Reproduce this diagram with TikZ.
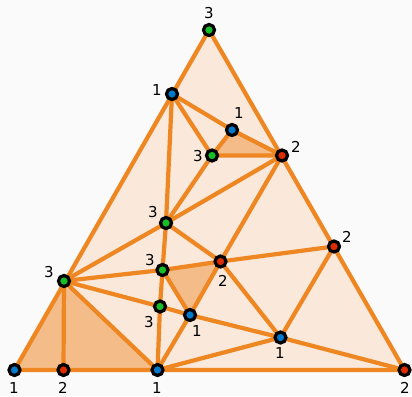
\documentclass[tikz,border=0pt]{standalone}
\usepackage{fontspec}
\setmainfont{DejaVu Sans}
\definecolor{myorange}{RGB}{238,134,34}
\definecolor{mypeach}{RGB}{250,232,218}
\definecolor{myshade}{RGB}{244,188,136}
\definecolor{myblue}{RGB}{0,122,204}
\definecolor{mygreen}{RGB}{22,190,40}
\definecolor{myred}{RGB}{222,44,0}
\definecolor{mybg}{RGB}{250,250,250}
\tikzset{
  edge/.style={myorange, line width=4.2pt, line cap=round, line join=round},
  dot/.style={circle, draw=black, line width=3.2pt, minimum size=11pt, inner sep=0pt},
  vblue/.style={dot, fill=myblue},
  vgreen/.style={dot, fill=mygreen},
  vred/.style={dot, fill=myred},
  lbl/.style={font=\fontsize{15}{15}\selectfont, inner sep=0pt},
}
\begin{document}
\begin{tikzpicture}[x=1pt,y=-1pt]
\fill[mybg] (0,0) rectangle (412,396);
\useasboundingbox (0,0) rectangle (412,396);

% vertices
\coordinate (A) at (209,30);
\coordinate (B) at (172,94);
\coordinate (C) at (232,130);
\coordinate (D) at (212,155.5);
\coordinate (E) at (282,155.5);
\coordinate (F) at (166,223);
\coordinate (G) at (334,246.5);
\coordinate (H) at (220.5,261.5);
\coordinate (I) at (162.5,270);
\coordinate (J) at (64,281);
\coordinate (K) at (160,306.5);
\coordinate (L) at (190,315);
\coordinate (M) at (280.5,337.5);
\coordinate (N) at (14.5,370);
\coordinate (O) at (63.5,370);
\coordinate (P) at (157.5,370);
\coordinate (Q) at (404.5,370);

% faces
\fill[mypeach] (A) -- (N) -- (Q) -- cycle;
\fill[myshade] (C) -- (D) -- (E) -- cycle;
\fill[myshade] (I) -- (H) -- (L) -- cycle;
\fill[myshade] (N) -- (J) -- (P) -- cycle;

% edges
\draw[edge] (A) -- (N) -- (Q) -- cycle;
\draw[edge] (B) -- (C) -- (E) -- (D) -- (C);
\draw[edge] (B) -- (D) -- (F) -- (E) -- (H);
\draw[edge] (B) -- (F) -- (J);
\draw[edge] (F) -- (I) -- (J);
\draw[edge] (F) -- (H) -- (G);
\draw[edge] (I) -- (H) -- (L) -- (I);
\draw[edge] (I) -- (K) -- (J);
\draw[edge] (J) -- (O);
\draw[edge] (J) -- (P) -- (K) -- (L) -- (P);
\draw[edge] (H) -- (M) -- (G);
\draw[edge] (L) -- (M) -- (P);
\draw[edge] (M) -- (Q);

% labelled points
\node[vgreen] (nA) at (A) {};
\node[vblue]  (nB) at (B) {};
\node[vblue]  (nC) at (C) {};
\node[vgreen] (nD) at (D) {};
\node[vred]   (nE) at (E) {};
\node[vgreen] (nF) at (F) {};
\node[vred]   (nG) at (G) {};
\node[vred]   (nH) at (H) {};
\node[vgreen] (nI) at (I) {};
\node[vgreen] (nJ) at (J) {};
\node[vgreen] (nK) at (K) {};
\node[vblue]  (nL) at (L) {};
\node[vblue]  (nM) at (M) {};
\node[vblue]  (nN) at (N) {};
\node[vred]   (nO) at (O) {};
\node[vblue]  (nP) at (P) {};
\node[vred]   (nQ) at (Q) {};

\node[lbl] (lA) at (209,13) {3};
\node[lbl] (lB) at (157,90) {1};
\node[lbl] (lC) at (239,113) {1};
\node[lbl] (lD) at (198,156) {3};
\node[lbl] (lE) at (296,147) {2};
\node[lbl] (lF) at (153,212) {3};
\node[lbl] (lG) at (347,237) {2};
\node[lbl] (lH) at (223,281) {2};
\node[lbl] (lI) at (150,260) {3};
\node[lbl] (lJ) at (49,272) {3};
\node[lbl] (lK) at (149,322) {3};
\node[lbl] (lL) at (197,331) {1};
\node[lbl] (lM) at (280,353) {1};
\node[lbl] (lN) at (14,388) {1};
\node[lbl] (lO) at (63,388) {2};
\node[lbl] (lP) at (157,388) {1};
\node[lbl] (lQ) at (405,388) {2};
\end{tikzpicture}
\end{document}
